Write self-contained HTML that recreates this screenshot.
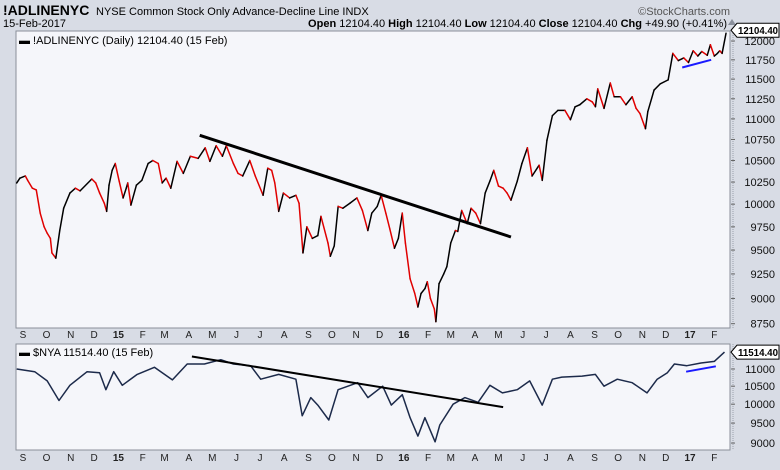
<!DOCTYPE html>
<html><head><meta charset="utf-8">
<style>
html,body{margin:0;padding:0;background:#d8dce5;}
body{width:780px;height:465px;overflow:hidden;font-family:"Liberation Sans",Arial,sans-serif;}
svg text{font-family:"Liberation Sans",Arial,sans-serif;}
</style></head>
<body>
<svg id="chart" width="780" height="465" viewBox="0 0 780 465" xmlns="http://www.w3.org/2000/svg">
<rect x="0" y="0" width="780" height="465" fill="#d8dce5"/>
<text x="3" y="15" font-size="14" font-weight="bold" fill="#000">!ADLINENYC</text>
<text x="96" y="15" font-size="11" fill="#000">NYSE Common Stock Only Advance-Decline Line  INDX</text>
<text x="3" y="27" font-size="11" fill="#000">15-Feb-2017</text>
<text x="730" y="15" font-size="11" fill="#555" text-anchor="end">©StockCharts.com</text>
<text x="727" y="27" font-size="11" fill="#000" text-anchor="end"><tspan font-weight="bold">Open</tspan> 12104.40  <tspan font-weight="bold">High</tspan> 12104.40  <tspan font-weight="bold">Low</tspan> 12104.40  <tspan font-weight="bold">Close</tspan> 12104.40  <tspan font-weight="bold">Chg</tspan> +49.90 (+0.41%)</text>
<path d="M728,25 L736,25 L732,19 Z" fill="#8a909c"/>
<g id="top"></g>
<g id="bot"></g>
</svg>
<script>
// ---- data (day offsets from 1-Sep-2014) ----
const adDays = [-8,-4,3,6,12,17,22,27,31,35,37,42,47,52,60,67,73,88,93,98,104,107,110,114,118,123,128,132,134,138,145,152,160,166,173,178,183,189,197,205,214,224,233,239,247,255,260,269,275,281,290,297,307,313,318,322,327,333,341,349,353,358,363,370,377,381,390,393,398,403,409,418,427,434,441,446,453,458,464,469,475,480,485,489,495,501,505,509,514,517,521,526,528,532,538,542,547,553,556,561,568,573,579,585,591,597,602,608,614,619,624,632,638,645,651,660,664,670,677,684,693,700,706,712,721,728,732,735,743,751,756,764,771,779,784,789,796,799,807,815,825,831,838,845,851,857,863,868,875,879,884,888,891,894,899];
const adValues = [10240,10295,10320,10270,10180,10160,9900,9750,9680,9625,9470,9415,9710,9955,10125,10180,10150,10285,10240,10125,10010,9920,10215,10385,10465,10260,10070,10180,10240,9990,10215,10270,10465,10500,10465,10240,10295,10180,10490,10350,10550,10525,10650,10490,10675,10550,10675,10465,10350,10320,10500,10320,10100,10410,10385,10240,9920,10125,10070,10100,10010,9470,9750,9625,9655,9865,9575,9435,9545,9975,9955,10010,10070,9930,9710,9900,9975,10100,9900,9730,9520,9625,9900,9575,9200,9050,8915,9050,9100,9170,9000,8895,8770,9150,9250,9325,9575,9710,9700,9930,9785,9955,9900,9785,10125,10260,10385,10205,10180,10125,10045,10260,10465,10650,10320,10445,10270,10740,11040,11105,11105,10990,11150,11175,11250,11210,11150,11375,11130,11450,11275,11275,11175,11275,11130,11065,10880,11090,11360,11440,11490,11835,11740,11775,11715,11870,11800,11860,11810,11950,11800,11835,11870,11835,12104.4];
const nyaDays = [-8,15,31,46,60,82,98,106,116,127,146,168,191,210,232,253,269,291,304,327,349,357,368,377,391,403,428,441,460,471,485,495,505,514,527,533,550,565,582,597,613,632,648,664,677,689,715,732,743,760,779,798,811,824,833,849,867,884,897];
const nyaValues = [11000,10920,10650,10100,10525,10920,10890,10400,10920,10525,10840,11050,10680,11150,11150,11280,11150,11100,10700,10840,10700,9690,10180,9975,9580,10400,10600,10180,10500,9975,10260,9640,9170,9640,9030,9450,10000,10180,10050,10525,10310,10400,10650,9975,10700,10760,10790,10840,10500,10700,10600,10310,10700,10890,11150,11100,11180,11230,11514.4];
const adTicks = [12000,11750,11500,11250,11000,10750,10500,10250,10000,9750,9500,9250,9000,8750];
const nyaTicks = [11000,10500,10000,9500,9000];
const monthDays = [0,30,61,91,122,153,181,212,242,273,303,334,365,395,426,456,487,518,547,578,608,639,669,700,731,761,792,822,853,884];
const monthLabels = ["S","O","N","D","15","F","M","A","M","J","J","A","S","O","N","D","16","F","M","A","M","J","J","A","S","O","N","D","17","F"];
const adTrend = [[226,10800],[624,9640]];
const adBlue = [[843,11650],[880,11750]];
const nyaTrend = [[216,11380],[614,9920]];
const nyaBlue = [[848,10920],[886,11080]];

const NS="http://www.w3.org/2000/svg";
function mk(tag,attrs,parent){const e=document.createElementNS(NS,tag);for(const k in attrs)e.setAttribute(k,attrs[k]);parent.appendChild(e);return e;}
const xS = d => 23 + d*0.782;
const yTop = v => 41 - 895*Math.log(v/12000);
const yBot = v => 369 - 369*Math.log(v/11000);

function panel(g,y0,h,ticks,yf,axisY){
  const r=mk('rect',{x:16,y:y0,width:714,height:h,fill:'#f5f6fa',stroke:'#8a8f99','stroke-width':1},g);
  
  
  const sep=mk('line',{x1:733,y1:y0,x2:733,y2:y0+h,stroke:'#9aa0ab','stroke-dasharray':'1,1'},g);
  
  
  ticks.forEach(t=>{
    const y=yf(t);
    const tk=mk('line',{x1:731,y1:y,x2:735,y2:y,stroke:'#666'},g);
    
    
    const tx=mk('text',{x:775,y:y+4,'font-size':11,'text-anchor':'end',fill:'#111'},g);
    tx.textContent=t;
    
    
  });
  monthDays.forEach((d,i)=>{
    const x=xS(d);
    const tx=mk('text',{x:x,y:axisY,'font-size':10,'text-anchor':'middle',fill:'#222','font-weight':/\d/.test(monthLabels[i])?'bold':'normal'},g);
    tx.textContent=monthLabels[i];
    
    
  });
}
function priceTag(g,y,label){
  const p=mk('path',{d:`M731,${y} L737,${y-7} L779,${y-7} L779,${y+7} L737,${y+7} Z`,fill:'#fff',stroke:'#000'},g);
  
  
  const t=mk('text',{x:778,y:y+4,'font-size':10.5,'font-weight':'bold','text-anchor':'end',fill:'#000',textLength:40,lengthAdjust:'spacingAndGlyphs'},g);
  t.textContent=label;
  
  
}
function seg(g,pts,yf,color,w,name){
  const l=mk('line',{x1:xS(pts[0][0]),y1:yf(pts[0][1]),x2:xS(pts[1][0]),y2:yf(pts[1][1]),stroke:color,'stroke-width':w,'stroke-linecap':'butt'},g);
  
  
}

const topG=document.getElementById('top');
panel(topG,31,297,adTicks,yTop,338);
const lg=mk('text',{x:19,y:44,'font-size':11,fill:'#000'},topG);
lg.textContent='▬ !ADLINENYC (Daily) 12104.40 (15 Feb)';


for(let i=1;i<adDays.length;i++){
  const up=adValues[i]>=adValues[i-1];
  const l=mk('line',{x1:xS(adDays[i-1]),y1:yTop(adValues[i-1]),x2:xS(adDays[i]),y2:yTop(adValues[i]),stroke:up?'#000':'#e00000','stroke-width':1.5,'stroke-linecap':'round'},topG);
  
  
}
seg(topG,adTrend,yTop,'#000',3,'adline-trendline');
seg(topG,adBlue,yTop,'#1a1aff',2,'adline-support-line');
priceTag(topG,yTop(12104.4)-3,'12104.40');

const botG=document.getElementById('bot');
panel(botG,344,106,nyaTicks,yBot,461);
const lg2=mk('text',{x:19,y:356,'font-size':11,fill:'#000'},botG);
lg2.textContent='▬ $NYA 11514.40 (15 Feb)';


const dPath=nyaDays.map((dd,i)=>(i?'L':'M')+xS(dd).toFixed(1)+','+yBot(nyaValues[i]).toFixed(1)).join(' ');
const np=mk('path',{d:dPath,fill:'none',stroke:'#1c2a4a','stroke-width':1.5,'stroke-linejoin':'round'},botG);


seg(botG,nyaTrend,yBot,'#000',2,'nya-trendline');
seg(botG,nyaBlue,yBot,'#1a1aff',2,'nya-support-line');
priceTag(botG,yBot(11514.4),'11514.40');
</script>
</body></html>
